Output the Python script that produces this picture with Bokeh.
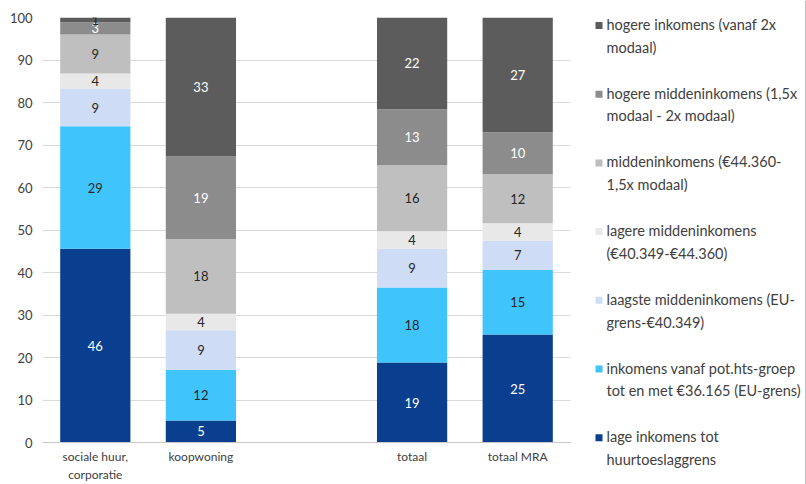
import numpy as np
from bokeh.plotting import figure
from bokeh.models import ColumnDataSource, FactorRange, Range1d, FixedTicker
from bokeh.layouts import row
from bokeh.embed import file_html
from bokeh.resources import INLINE
from bokeh.core.properties import value

# ---- data ----
bar_categories = ["sociale huur,\ncorporatie", "koopwoning", "totaal", "totaal MRA"]
axis_factors = ["sociale huur,\ncorporatie", "koopwoning", " ", "totaal", "totaal MRA"]

# series, bottom to top
lage_inkomens = [45.6, 5.2, 18.8, 25.4]
tot_eu_grens = [28.8, 11.9, 17.7, 15.2]
laagste_midden = [8.8, 9.3, 9.1, 6.9]
lagere_midden = [3.6, 3.9, 4.1, 4.1]
midden = [9.2, 17.6, 15.6, 11.5]
hogere_midden = [2.9, 19.4, 13.1, 9.9]
hogere_inkomens = [1.1, 32.7, 21.6, 27.0]

series_values = [lage_inkomens, tot_eu_grens, laagste_midden, lagere_midden,
                 midden, hogere_midden, hogere_inkomens]
series_names = [
    "lage inkomens tot\nhuurtoeslaggrens",
    "inkomens vanaf pot.hts-groep\ntot en met €36.165 (EU-grens)",
    "laagste middeninkomens (EU-\ngrens-€40.349)",
    "lagere middeninkomens\n(€40.349-€44.360)",
    "middeninkomens (€44.360-\n1,5x modaal)",
    "hogere middeninkomens (1,5x\nmodaal - 2x modaal)",
    "hogere inkomens (vanaf 2x\nmodaal)",
]
series_colors = ["#0a3f8f", "#3fc5fb", "#cfdcf6", "#e8e8e8",
                 "#bfbfbf", "#8c8c8c", "#5c5c5c"]
label_light = [True, False, False, False, False, True, True]

y_ticks = list(range(0, 101, 10))

FONT = "Lato"
DARK = "#262626"
H = 484

p = figure(width=588, height=H, x_range=FactorRange(*axis_factors, range_padding=0),
           y_range=Range1d(0, 100), output_backend="svg", toolbar_location=None,
           min_border_left=42, min_border_right=18, min_border_top=17, min_border_bottom=42,
           frame_align=False)
p.outline_line_color = None
p.xgrid.grid_line_color = None
p.ygrid.grid_line_color = "#d9d9d9"
p.ygrid.ticker = FixedTicker(ticks=y_ticks)
p.yaxis.ticker = FixedTicker(ticks=y_ticks)
p.yaxis.axis_line_color = None
p.yaxis.major_tick_line_color = None
p.yaxis.major_tick_out = 0
p.yaxis.minor_tick_line_color = None
p.yaxis.major_label_standoff = 10
p.yaxis.major_label_text_font = FONT
p.yaxis.major_label_text_font_size = "13px"
p.yaxis.major_label_text_color = "#404040"
p.xaxis.axis_line_color = "#c8c8c8"
p.xaxis.major_tick_line_color = None
p.xaxis.major_tick_out = 0
p.xaxis.minor_tick_line_color = None
p.xaxis.major_label_standoff = 6
p.xaxis.major_label_text_font = FONT
p.xaxis.major_label_text_font_size = "12px"
p.xaxis.major_label_text_color = "#404040"
p.xaxis.major_label_text_line_height = 1.2

bottoms = np.zeros(len(bar_categories))
for vals, name, color, light in zip(series_values, series_names, series_colors, label_light):
    vals = np.array(vals)
    tops = bottoms + vals
    labels = [str(int(round(v))) for v in vals]
    tcolors = ["#ffffff" if (light and v >= 2) else DARK for v in vals]
    src = ColumnDataSource(dict(x=bar_categories, bottom=bottoms, top=tops,
                                mid=(bottoms + tops) / 2, label=labels, tc=tcolors))
    p.vbar(x="x", bottom="bottom", top="top", width=0.665, source=src,
           fill_color=color, line_color=None)
    p.text(x="x", y="mid", text="label", source=src, text_align="center",
           text_baseline="middle", text_font=value(FONT), text_font_size="13px",
           text_color="tc")
    bottoms = tops

# ---- legend as separate panel (pixel coordinates) ----
L_W = 218
leg = figure(width=L_W, height=H, x_range=Range1d(0, L_W), y_range=Range1d(H, 0),
             output_backend="svg", toolbar_location=None,
             min_border=0, min_border_left=0, min_border_right=0,
             min_border_top=0, min_border_bottom=0, frame_align=False)
leg.axis.visible = False
leg.grid.visible = False
leg.outline_line_color = None

n = len(series_names)
order = list(range(n))[::-1]
first_line_y = np.array([25 + 68.7 * k for k in range(n)])
lsrc = ColumnDataSource(dict(
    sx=[10.5] * n, sy=first_line_y,
    tx=[18] * n, ty=first_line_y - 9.5,
    name=[series_names[i] for i in order],
    color=[series_colors[i] for i in order]))
leg.rect(x="sx", y="sy", width=7, height=7, source=lsrc, fill_color="color", line_color=None)
leg.text(x="tx", y="ty", text="name", source=lsrc, text_align="left", text_baseline="top",
         text_font=value(FONT), text_font_size="14.5px", text_color="#404040",
         text_line_height=1.34)
leg.vspan(x=[L_W - 1.5], line_color="#bfbfbf", line_width=1)

layout = row(p, leg, spacing=0)
open("out.html", "w").write(file_html(layout, INLINE))
